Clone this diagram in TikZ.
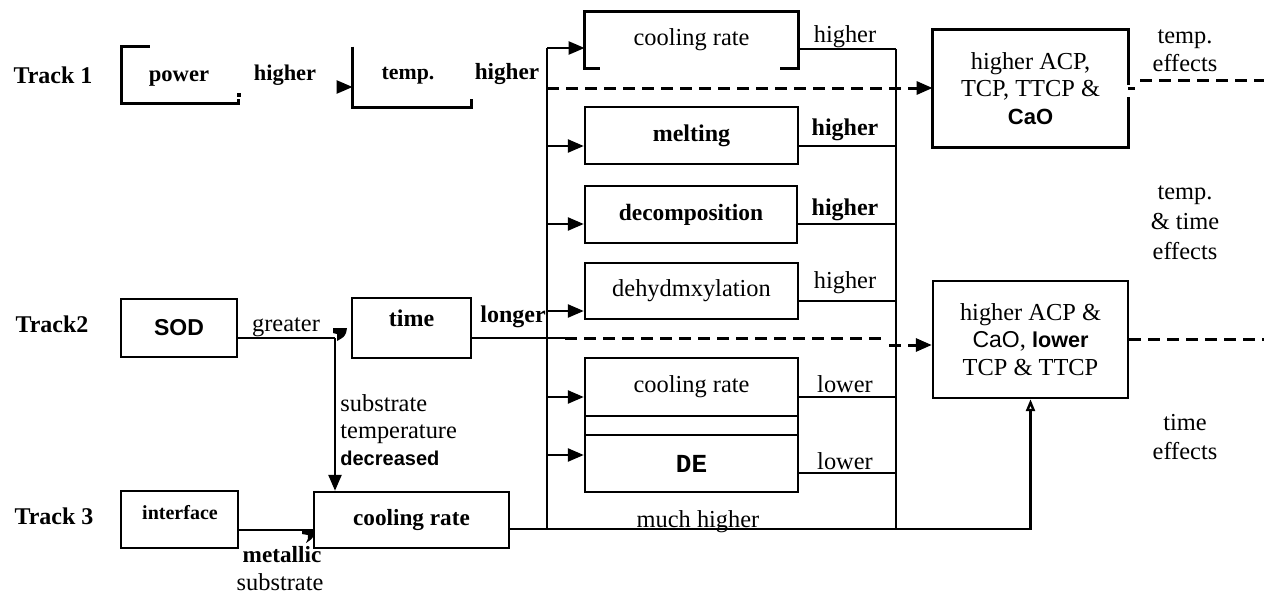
\documentclass[tikz,border=0pt]{standalone}
\usepackage{fontspec}
\setmainfont{Liberation Serif}
\setsansfont{Liberation Sans}
\setmonofont{Liberation Mono}
\usetikzlibrary{arrows.meta}
\tikzset{
  bx/.style={draw, line width=1.2pt, inner sep=0pt, minimum width=#1},
  nobx/.style={draw=none, inner sep=0pt, minimum width=#1},
  ln/.style={line width=1.2pt},
  arr/.style={line width=1.2pt, -{Triangle[length=8pt,width=6.5pt]}},
  oarr/.style={line width=1.2pt, -{Triangle[open,length=6pt,width=4.5pt]}},
  dsh/.style={line width=1.5pt, dash pattern=on 6pt off 3.5pt},
  dsharr/.style={line width=1.5pt, dash pattern=on 6pt off 3.5pt, -{Triangle[length=8pt,width=6.5pt]}},
  lbl/.style={inner sep=0pt},
  bf/.style={font=\fontsize{12}{14}\selectfont\bfseries},
  rg/.style={font=\fontsize{12.2}{14}\selectfont},
}
\begin{document}
\begin{tikzpicture}[x=0.5pt,y=-0.5pt, font=\fontsize{12.2}{14}\selectfont]
\useasboundingbox (0,0) rectangle (1264,594);

% ---------- track labels
\node[lbl, bf] (tr1) at (53,75) {Track 1};
\node[lbl, bf] (tr2) at (52,324) {Track2};
\node[lbl, bf] (tr3) at (54,516) {Track 3};

% ---------- Track 1 boxes (partly open outlines)
\node[nobx=58pt, minimum height=28pt] (power) at (180,75) {};
\node[lbl, font=\fontsize{11.3}{13}\selectfont\bfseries] (powert) at (179,79) {power};
\draw[ln] ([xshift=14pt]power.north west) -- (power.north west) -- (power.south west) -- (power.south east) -- ([yshift=2pt]power.south east);
\fill ([xshift=-0.8pt,yshift=3.2pt]power.south east) rectangle ([xshift=1.2pt,yshift=5.2pt]power.south east);
\node[lbl, font=\fontsize{11.2}{13}\selectfont\bfseries] (hi1) at (285,75) {higher};

\node[nobx=59pt, minimum height=30pt] (temp) at (412,77) {};
\node[lbl, font=\fontsize{10.9}{12}\selectfont\bfseries] (tempt) at (408,76) {temp.};
\draw[ln] (temp.north west) -- (temp.south west) -- (temp.south east) -- ([yshift=4pt]temp.south east);
\coordinate (pa) at (338,87);
\draw[arr] (pa) -- (pa -| temp.west);
\node[lbl, font=\fontsize{11.6}{13}\selectfont\bfseries] (hi2) at (507,74) {higher};

% ---------- left bus
\coordinate (lbt) at (547,48);
\coordinate (lbb) at (547,529);
\draw[ln] (lbt) -- (lbb);

% ---------- middle column boxes
\node[nobx=106.5pt, minimum height=28pt] (cr1) at (691.5,40) {\raisebox{2pt}{cooling rate}};
\draw[ln] ([xshift=7.5pt]cr1.south west) -- (cr1.south west) -- (cr1.north west) -- (cr1.north east) -- (cr1.south east) -- ([xshift=-9pt]cr1.south east);
\node[bx=106.5pt, minimum height=28.5pt, bf] (melt) at (691.5,135.5) {melting};
\node[bx=106pt, minimum height=28.5pt, font=\fontsize{11.7}{14}\selectfont\bfseries] (decomp) at (691,214.5) {decomposition};
\node[bx=106.5pt, minimum height=28pt] (dehyd) at (691.5,291) {\raisebox{2pt}{dehydmxylation}};
\node[bx=106.5pt, minimum height=29pt] (cr2) at (691.5,387) {cooling rate};
\node[bx=106.5pt, minimum height=9.5pt] (strip) at (691.5,425.5) {};
\node[bx=106.5pt, minimum height=28.5pt, font=\fontsize{13}{14}\selectfont\ttfamily\bfseries] (de) at (691.5,463.5) {DE};

% arrows from left bus into boxes
\coordinate (a1) at (547,48);
\coordinate (a2) at (547,146);
\coordinate (a3) at (547,224);
\coordinate (a4) at (547,311);
\coordinate (a5) at (547,397);
\coordinate (a6) at (547,455);
\draw[arr] (a1) -- (a1 -| cr1.west);
\draw[arr] (a2) -- (a2 -| melt.west);
\draw[arr] (a3) -- (a3 -| decomp.west);
\draw[arr] (a4) -- (a4 -| dehyd.west);
\draw[arr] (a5) -- (a5 -| cr2.west);
\draw[arr] (a6) -- (a6 -| de.west);

% ---------- right bus
\coordinate (rbt) at (896,49);
\coordinate (rbb) at (896,529);
\draw[ln] (rbt) -- (rbb);
\coordinate (r2) at (896,146);
\coordinate (r3) at (896,224);
\coordinate (r4) at (896,301);
\coordinate (r5) at (896,397);
\coordinate (r6) at (896,473);
\draw[ln] (rbt -| cr1.east) -- (rbt);
\draw[ln] (r2 -| melt.east) -- (r2);
\draw[ln] (r3 -| decomp.east) -- (r3);
\draw[ln] (r4 -| dehyd.east) -- (r4);
\draw[ln] (r5 -| cr2.east) -- (r5);
\draw[ln] (r6 -| de.east) -- (r6);

\node[lbl] (h1) at (845,37) {higher};
\node[lbl, bf] (h2) at (845,130) {higher};
\node[lbl, bf] (h3) at (845,210) {higher};
\node[lbl] (h4) at (845,283) {higher};
\node[lbl] (l1) at (845,384) {lower};
\node[lbl] (l2) at (845,461) {lower};

% ---------- result boxes
\node[nobx=97.5pt, minimum height=58.5pt, align=center, font=\fontsize{12.2}{13.8}\selectfont] (res1) at (1030.5,88.5)
  {higher ACP,\\TCP, TTCP \&\\{\fontsize{11}{13}\selectfont\sffamily\bfseries CaO}};
\draw[ln] ([yshift=-27.5pt]res1.north east) -- (res1.north east) -- (res1.north west) -- (res1.south west) -- (res1.south east) -- ([yshift=25pt]res1.south east);
\draw[ln] ([yshift=-29.5pt]res1.north east) -- ++(7,0);
\node[bx=97.5pt, minimum height=58.5pt, align=center, font=\fontsize{12.2}{13.8}\selectfont] (res2) at (1030.5,339.5)
  {higher ACP \&\\{\fontsize{11.5}{13}\selectfont\sffamily CaO}, {\fontsize{10.8}{13}\selectfont\sffamily\bfseries lower}\\TCP \& TTCP};

% dashed: temp -> res1
\coordinate (d1) at (547,88);
\draw[dsharr] (d1) -- (d1 -| res1.west);

% ---------- Track 2
\node[bx=58pt, minimum height=29pt, font=\fontsize{11.5}{13}\selectfont\sffamily\bfseries] (sod) at (179,328) {SOD};
\node[lbl] (gr) at (286,327) {greater};
\node[bx=59.5pt, minimum height=30pt] (time) at (411.5,328) {};
\node[lbl, bf] (timet) at (411.5,318) {time};
\node[lbl, bf] (lg) at (513,317) {longer};

\coordinate (hk) at (335,338);
\draw[ln] (hk -| sod.east) -- (hk);
\fill (333,328) -- (347,328) -- (346,333) .. controls (344,337) .. (337,341) -- (337,334) -- (333,333) -- cycle;

% time -> res2 (solid then dashed)
\coordinate (t1) at (565,338);
\coordinate (t2) at (883,338);
\coordinate (t3) at (889,345);
\draw[ln] (t1 -| time.east) -- (t1);
\draw[dsh] (t1) -- (t2);
\draw[dsharr] (t3) -- (t3 -| res2.west);

\node[lbl, anchor=west, align=left, font=\fontsize{12.2}{13.5}\selectfont] (subt) at (340,430)
  {substrate\\temperature\\{\fontsize{10}{13}\selectfont\sffamily\bfseries decreased}};

% ---------- Track 3
\node[bx=58.5pt, minimum height=28.5pt] (iface) at (179.5,519.5) {};
\node[lbl, font=\fontsize{10}{12}\selectfont\bfseries] (ifacet) at (180,513) {interface};
\node[bx=97.5pt, minimum height=28pt, font=\fontsize{11.6}{13}\selectfont\bfseries] (crb) at (411.5,520) {cooling rate};

\draw[arr] (hk) -- (crb.north -| hk);

\coordinate (m1) at (238,530);
\draw[ln] (m1 -| iface.east) -- (m1 -| crb.west);
\fill (302,530) -- (315,530) -- (314,535) .. controls (312,539) .. (306,543) .. controls (308,539) .. (308,535) -- (302,534) -- cycle;

\node[lbl, font=\fontsize{11.6}{13}\selectfont\bfseries] (met) at (282,555) {metallic};
\node[lbl] (sub) at (280,582) {substrate};

% bottom line crb -> res2
\coordinate (b1) at (520,529);
\draw[oarr] (b1 -| crb.east) -| (res2.south);
\node[lbl] (mh) at (698,522) {much higher};

% ---------- right side effects
\coordinate (e1) at (1140,80);
\draw[dsh] (e1) -- (1264,80);
\coordinate (e2) at (1264,339);
\draw[dsh] (e2 -| res2.east) -- (e2);
\node[lbl, align=center, font=\fontsize{12.2}{14}\selectfont] (eff1) at (1185,51) {temp.\\effects};
\node[lbl, align=center, font=\fontsize{12.2}{15}\selectfont] (eff2) at (1185,223) {temp.\\\& time\\effects};
\node[lbl, align=center, font=\fontsize{12.2}{14.5}\selectfont] (eff3) at (1185,437) {time\\effects};
\end{tikzpicture}
\end{document}
